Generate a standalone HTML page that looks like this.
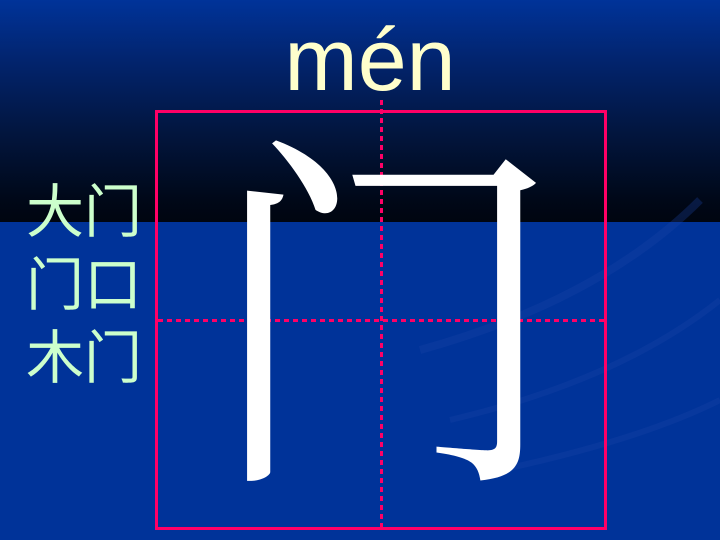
<!DOCTYPE html>
<html style="width:720px;height:540px;overflow:hidden"><head><meta charset="utf-8"><style>
body{margin:0;width:720px;height:540px;overflow:hidden;position:relative;background:#003399;font-family:"Liberation Sans","Noto Sans CJK SC",sans-serif}
#top{position:absolute;left:0;top:0;width:720px;height:222px;background:linear-gradient(#003399 0px,#02246e 60px,#021640 130px,#000818 200px,#000510 222px)}
#pinyin{position:absolute;left:220px;top:5px;width:300px;text-align:center;font-size:88px;color:#ffffcc;line-height:110px}
#words{position:absolute;left:26px;top:176px;font-size:58px;line-height:73px;color:#ccffcc}
#box{position:absolute;left:155px;top:110px;width:446px;height:414px;border:3px solid #ff0066}
.vd{position:absolute;left:380px;top:100px;width:3px;height:427px;background:repeating-linear-gradient(#ff0066 0 5px,transparent 5px 9px)}
.hd{position:absolute;left:158px;top:319px;width:446px;height:3px;background:repeating-linear-gradient(90deg,#ff0066 0 5px,transparent 5px 9px)}
#big{position:absolute;left:208px;top:92px;font-size:342px;line-height:378px;color:#fff;font-family:"Noto Serif CJK SC",serif;transform-origin:37px 48px;transform:scale(1.043,1.08)}
</style></head><body>
<div id="top"></div>
<svg style="position:absolute;left:0;top:0" width="720" height="540">
<path d="M420 350 Q600 300 700 200" stroke="#1a45a8" stroke-width="8" fill="none" opacity="0.3"/>
<path d="M450 420 Q620 380 720 300" stroke="#1a45a8" stroke-width="6" fill="none" opacity="0.3"/>
<path d="M500 470 Q640 440 720 400" stroke="#1a45a8" stroke-width="6" fill="none" opacity="0.3"/>
</svg>
<div id="pinyin">mén</div>
<div id="box"></div>
<div class="vd"></div>
<div class="hd"></div>
<div id="big">门</div>
<div id="words">
<div>大门</div>
<div>门口</div>
<div>木门</div>
</div>
</body></html>
